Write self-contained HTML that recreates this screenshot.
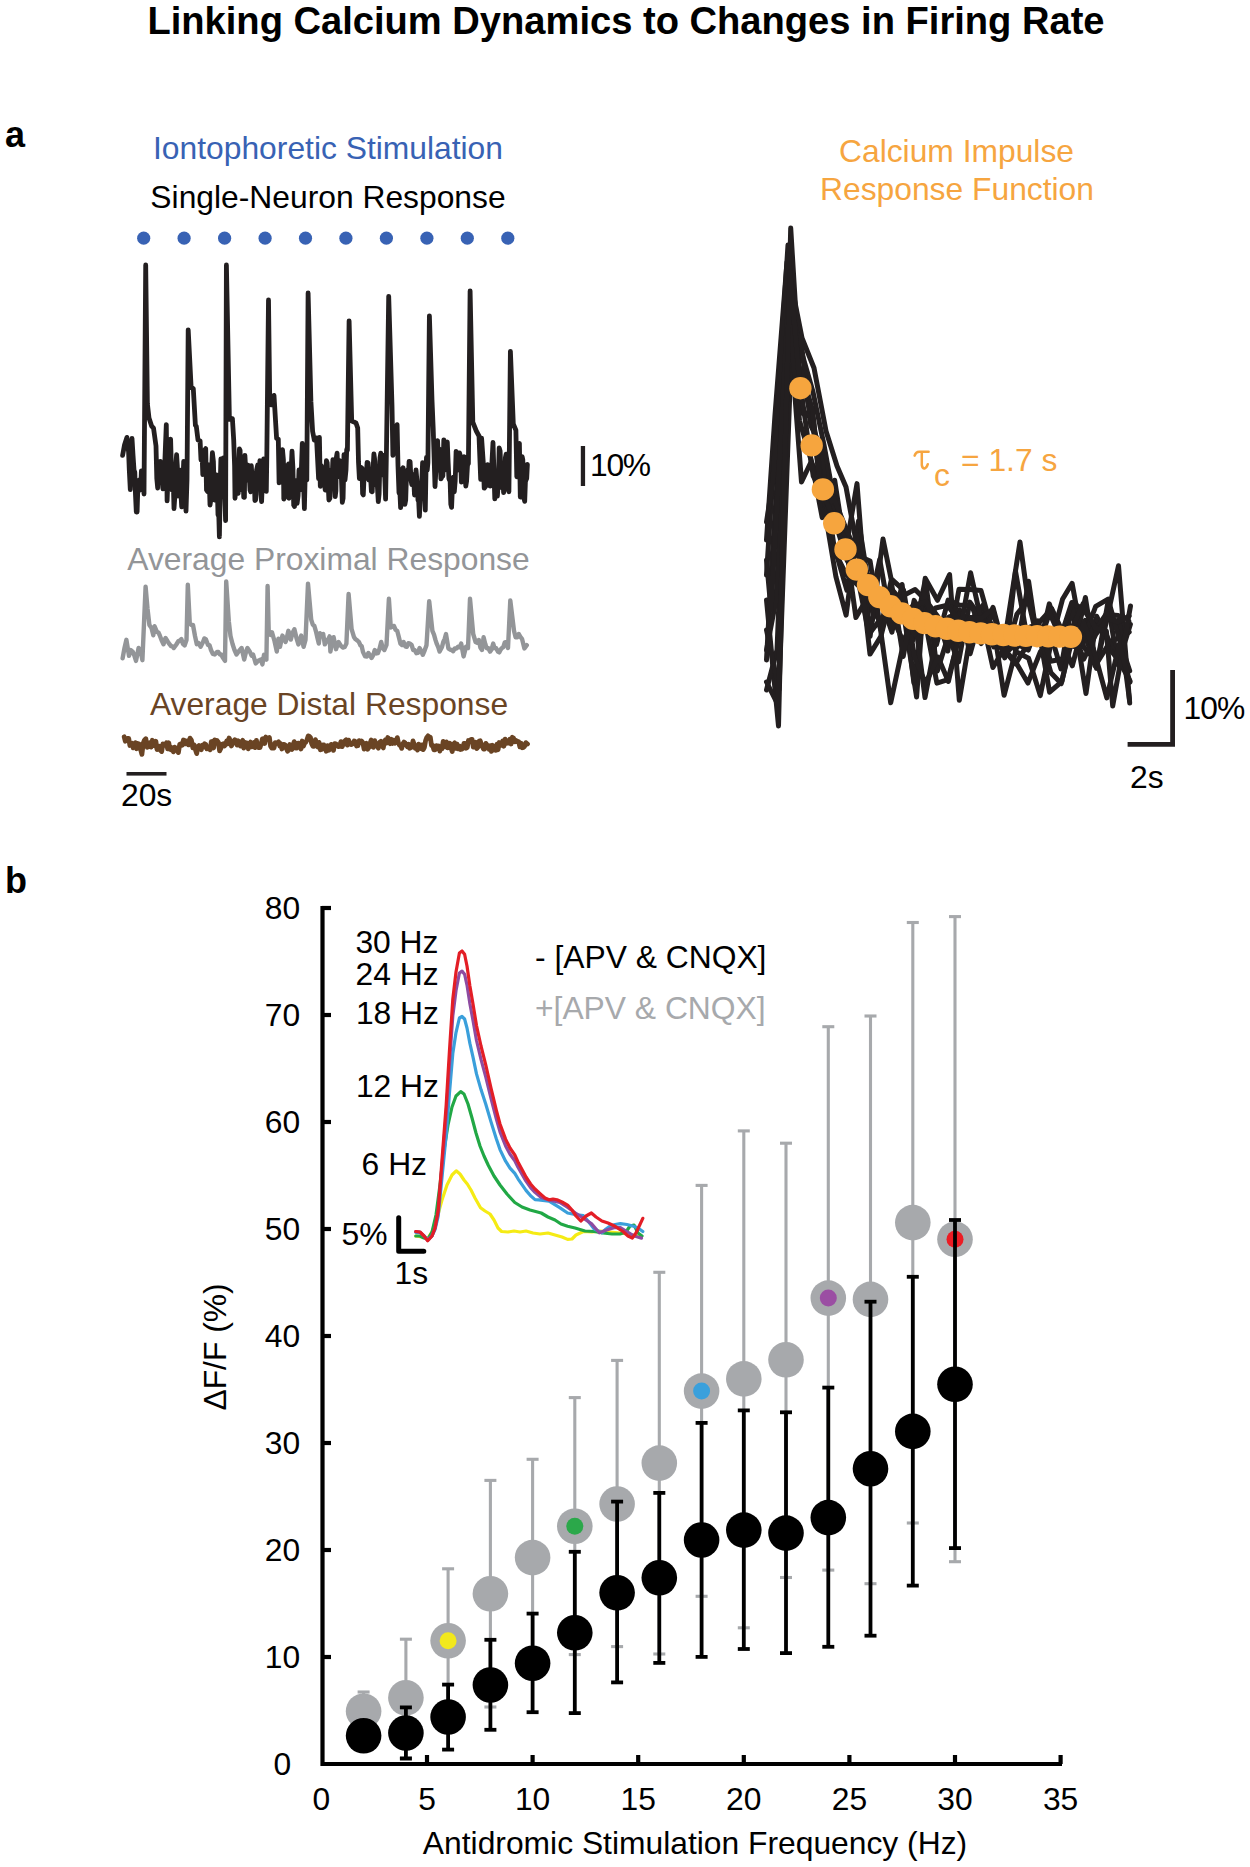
<!DOCTYPE html>
<html><head><meta charset="utf-8"><title>Linking Calcium Dynamics to Changes in Firing Rate</title>
<style>
html,body{margin:0;padding:0;background:#fff;}
svg{display:block;}
text{font-family:"Liberation Sans", sans-serif;}
</style></head>
<body>
<svg width="1250" height="1867" viewBox="0 0 1250 1867">
<rect width="1250" height="1867" fill="#fff"/>
<polyline points="122.6,455.4 124.5,445 126.9,437.4 128.6,452 129.3,470 130.3,489.7 132,438.3 133,455 134,470 134.8,472.3 135.5,495 136.3,512 137.1,512 138,482.5 138.9,480.3 140,490 140.7,488.8 141.4,470.9 142.5,484 143.2,476.9 144,494 145.7,265 147.4,404 149,418 151.7,426.3 153.5,428 156,446 156.8,478.6 157.7,488 158.3,467.7 159,470 159.7,472.6 160.3,461.4 161.5,480 162.2,478.2 162.9,488.9 163.7,488.5 164.5,470 166.3,424.6 167.1,500.9 168.1,473.5 169,470 170.6,439.1 172,490 173,470 174,508.6 174.8,497.3 175.5,470 176.6,454.6 177.3,465.3 178,496 179,475 180,470 181,495 181.7,506.9 182.3,502 183,480 183.7,461.4 184.3,468.3 185.2,490 186,511.1 187,480 188.2,329.8 191.1,386.9 193.3,388.6 195.4,425.4 196.3,426.3 198,440 200.1,440.9 201,460 202,452 202.8,474.6 203.5,470 204.6,450.1 205.7,448.6 206.5,490 207.5,491.5 208.5,465 209.2,478.5 210,505 210.8,500 211.5,470 212.4,452.7 213.4,461.4 214.5,500 215.5,494.7 216.5,475 217.2,483.4 218,515 218.7,512 219.4,536.9 220.2,484.3 220.9,458.9 222,480 222.7,476.7 223.4,458 224.5,490 225.6,520.6 226.4,265 229.4,419.4 232.4,418.6 233.7,440 234.6,465.7 235,498.3 236.3,484.1 237.6,490.6 238.2,493.4 238.8,470 239.4,449 240.1,450.3 240.8,478.5 241.4,489.7 242.2,473.2 243,470 243.7,497.2 244.4,497.4 244.9,455.4 246,475 247,480 248,465.2 249,470 250,490 250.7,491.8 251.3,465.7 252.5,485 253.4,473.4 254.3,476 254.9,500.5 255.6,500 256.6,469.9 257.7,464.9 258.8,485 259.9,460.6 260.8,494.5 261.6,501.7 262.6,474.2 263.7,458.9 264.4,480.9 265,485 265.6,481.8 266.3,491.4 266.8,457.1 268.5,300 269.7,397.1 271.4,404.9 274,395.4 276.6,438.3 278.3,439.1 279.1,482.9 280.4,482 281.7,457.1 282.5,449.6 283.4,459.7 283.8,499.1 284.5,497.8 285.1,469.1 286.1,465.6 287,480 287.8,484.2 288.6,464 289,498.3 289.8,471.2 290.5,470 291.2,468.5 292,451.1 292.9,467.6 293.7,505.1 294.5,506.4 295.4,480.3 296.2,481.6 297.1,503.4 298.1,495.6 299,470 300,490 301,480 302.3,443.4 304.4,508.6 305,483.3 305.7,474.3 306.8,480 308.1,293 310.9,401.4 312.6,431.4 314.3,440 316.5,438 318.6,478.6 319.4,437.4 320.3,486.3 321.3,465.7 322.1,478.8 322.9,467.4 324,480 325.2,490 326.4,460.6 327.2,462.8 328,480 328.9,500 329.9,498.3 330.7,473.7 331.5,470 332.2,475.3 332.9,459.7 333.7,462.8 334.5,480 335.2,496.6 335.9,490.6 336.3,458 337.1,453.2 338,475 338.9,476.4 339.7,460.6 340.6,461.6 341.5,480 342.3,502.4 343.1,498.3 344,454.6 345,480 346,470 346.7,449.5 347.4,450.3 349.1,320.8 351.7,421.1 354,422 356,422.9 357.7,428 358.5,462 359.4,478.5 360.3,478.6 361.1,467.4 362,468.3 362.6,493.6 363.3,494.9 364.1,476.2 365,475 366.1,478.4 367.1,462.3 368.1,463 369,480 370.2,470 371.4,491.4 372.2,491.8 373,470 373.9,453.9 374.9,461.4 375.7,481.7 376.5,485 377.4,486.7 378.3,501.7 379.1,493.7 380,458 380.8,453.2 381.5,475 382.4,471.4 383.4,455.4 384.5,470 385.6,499.1 386.5,447.7 388.7,296.3 392,405.7 392.9,455.4 395.4,431.4 397.1,424.6 398,465.7 399,493 399.8,489.8 400.6,507.7 401.5,499.9 402.3,469.1 403.1,467.8 404,485 404.9,504.4 405.7,500 406.6,471.3 407.5,470 408.3,476.4 409.1,461.4 410.1,461.6 411,480 411.8,484.7 412.6,474.3 413.6,476.6 414.5,495 415.2,489.7 416,470 416.9,480.3 418,500 418.7,501.3 419.4,516.3 420.2,500 421,497.8 421.8,480.3 422.6,462.7 423.6,485 424.5,484.9 425.3,510.2 426,470 426.5,457.4 427.2,470.3 427.9,462.7 429.4,315.8 432,400 433.2,428.4 435,486.5 437.6,440.7 438.8,470 439.5,449.1 440.2,453 440.9,478.9 441.5,478 442.2,464.5 442.9,475.9 443.8,439.8 445,470 445.7,463.9 446.4,445.1 447.3,442 448.2,463.6 448.9,478.5 449.5,480 450.1,479.9 450.8,504.1 451.6,507.3 452.5,485 453.4,477.1 454.3,491.8 455.2,480.8 456.1,451.3 457,454 457.8,470 458.7,468.2 459.6,453 460.5,456.5 461.4,482.1 462.2,478.6 463.1,459.2 464.1,456.8 465,475 465.8,486.2 466.6,481.2 467.5,465.1 468.4,463.6 470.1,290.9 472.8,422.2 476.3,431 479,436 480.7,479.4 481.6,438.1 483.4,464.5 484.2,488.2 485.5,486.5 486.9,468 487.6,464.7 488.3,485 489.5,472.4 490.2,486.1 491,480 493,442.5 494.8,498.8 496,480 496.7,479 497.4,496.2 498.3,481.9 499.2,447.8 500.1,451 501,475 501.6,487.6 502.3,480 503,476.7 503.6,492.6 504.5,488.7 505.4,457.4 506.1,454.2 506.8,475 508,456.6 508.9,491.8 510.4,351.4 513.3,424 515.9,430.2 516.8,476.8 519.4,443.4 520.3,497 521.2,484.6 522.1,456.6 522.8,459.8 523.5,480 524.1,498.2 524.7,501.4 525.4,481.8 526,480 526.7,478.5 527.4,464.5" fill="none" stroke="#231f20" stroke-width="4.8" stroke-linejoin="round" stroke-linecap="round"/>
<circle cx="143.7" cy="238.2" r="6.6" fill="#3862b4"/>
<circle cx="184.1" cy="238.2" r="6.6" fill="#3862b4"/>
<circle cx="224.6" cy="238.2" r="6.6" fill="#3862b4"/>
<circle cx="265.1" cy="238.2" r="6.6" fill="#3862b4"/>
<circle cx="305.5" cy="238.2" r="6.6" fill="#3862b4"/>
<circle cx="345.9" cy="238.2" r="6.6" fill="#3862b4"/>
<circle cx="386.4" cy="238.2" r="6.6" fill="#3862b4"/>
<circle cx="426.9" cy="238.2" r="6.6" fill="#3862b4"/>
<circle cx="467.3" cy="238.2" r="6.6" fill="#3862b4"/>
<circle cx="507.8" cy="238.2" r="6.6" fill="#3862b4"/>
<rect x="580.8" y="446" width="4.3" height="40" fill="#231f20"/>
<polyline points="122.6,658.3 124.5,648 126.4,639.8 129,655.8 130.8,650 132.8,651.9 134.5,656 136,660.9 138.6,648 140.5,650 142.4,660.2 145.6,586.6 147.5,608.4 149.4,625 151.5,628 153.3,635.3 154.6,626.3 157,632 158.3,632.3 159.7,635.3 161.5,640 163.5,644.2 165.5,638 168,642 169.5,644.2 171,646 172.4,646.3 173.8,648 176,645 178.5,641 179.9,640.6 181.4,639.1 183,644 184.6,645.5 186.5,640 187.8,584.7 189.8,623.8 191.4,625 193,625 195,636 196.8,644.2 198.5,643 200.6,646.8 203,642 204.4,638.4 205.8,639.1 208,645 209.5,645.1 211,650 212.8,653.9 214.7,654.5 217,652 218.4,652 219.8,654.5 221.2,654.4 222.5,657 225,660.9 226.2,581.5 228.8,621.2 230.5,636 232.6,644.2 234.5,650 236.5,654.5 239,651 241.6,648 244.2,659.6 246,652 247.4,648 250,652 251.6,655.7 253.1,654.5 255.7,663.4 258,661 259.4,660.2 260.8,659.6 262.4,664.4 264,654.8 266.4,659.6 267.6,586 268.8,634 270.4,634.9 272,632.4 274.5,641 276.8,651.6 278.4,638.8 280,646.8 282.4,635.6 284,638.7 285.6,642 287,637.1 288.4,630.8 290.8,639.6 292.6,632.7 294.4,629.2 296.5,638 298.4,644.4 299.8,640.7 301.2,635.6 303.6,646.8 305.5,640 308,583.6 311.2,619.6 312.8,624.6 314.4,626 316,631.6 317.4,637.7 318.8,643.6 320,633.2 321.6,634.8 323.2,634 324.8,644.4 327,640 328.3,639.1 329.6,636.4 330.4,651.6 332,642.2 333.6,637.2 336,649.2 338.5,642 341,646 343.2,647.6 344.8,646.9 346.4,643.6 348.6,594 351.6,629.2 354,637.2 355.6,639.3 357.2,640.4 358.8,641.8 360.4,645.2 361.7,646.3 363,652 365.2,656.4 366.8,656.5 368.4,653 370,655.4 371.6,658 373.2,655.1 374.8,650 376.4,653.4 378,653 379.6,648.6 381.2,642 382.8,648.1 384.4,650 386.5,645 388.9,598.8 390.8,627.6 392.4,626.3 394,626 395.6,629.9 397.2,630.8 398.8,636.9 400.4,643.6 402,645 403.6,642 405.2,646.3 406.8,646.8 408.4,643.2 410,643.6 411.6,645 413.2,650 414.8,650.2 416.4,653.2 418,652.9 419.6,648 421.2,651.1 422.8,654.8 424.6,650.6 426.5,645.2 429.2,601.2 432.4,630.8 434,634.6 435.6,640.4 436.9,644.2 438.3,647.3 439.6,651.6 442,647 443.3,641.9 444.7,638.8 446,634 448.4,648.4 450,649.6 451.6,650 453.2,651.2 454.8,648.4 456.4,648.5 458,646.8 459.6,647.3 461.2,643.6 463.6,656.4 466,646.8 468,648 470,598.8 473.2,634 475.6,642 477.2,642.8 478.8,640 480.4,647.5 482,650 483.6,637.2 485.2,643.7 486.8,648.4 488.4,648.3 490,651.6 491.6,649.4 493.2,643.6 494.6,648.1 496,648 498,651.6 499.3,652.4 500.7,649.5 502,648 503.3,647.1 504.7,642.6 506,642 508,648 510.3,600.4 514,630.8 515.6,637.2 517.2,637.3 518.8,634 520.4,636.8 522,638.8 524.4,648.4 526.8,645.2" fill="none" stroke="#939598" stroke-width="4.4" stroke-linejoin="round" stroke-linecap="round"/>
<polyline points="124.2,736.8 125.3,741.2 126.5,740.6 127.6,738.4 128.7,738.4 129.9,745.5 131,744.3 132.1,743.4 133.2,747.8 134.3,746.8 135.4,742.6 136.6,748.7 137.7,743.5 139.1,744 140.5,749.1 141.9,754.4 143.2,743.4 144.4,740.1 145.8,738.7 147.2,747.3 148.6,746.8 149.8,742.6 151.1,747.1 152.3,740.3 153.6,741.8 154.7,745.8 155.9,741.2 157,749.5 158.1,749 159.3,746.2 160.4,750.2 161.7,751.5 162.9,743.9 164.2,744.4 165.4,745.2 166.5,742.8 167.6,748.7 168.8,742.8 169.9,749.3 171,749.7 172.1,747.7 173.4,751.9 174.6,747.1 175.9,748 177.2,750.2 178.4,752.6 179.7,744.4 180.9,743.7 182.2,745.2 183.4,740 184.7,740.5 185.9,743.9 187.2,741 188.6,744.9 190,738.2 191.4,740.1 192.8,747.7 194.2,744.8 195.6,750.2 196.7,753.6 197.9,746.9 199,745.6 200.1,748.4 201.3,749.8 202.4,745.2 203.5,747.2 204.6,743.7 205.8,744.5 206.9,748.8 208,748.4 209.1,746.8 210.2,749.8 211.3,741.6 212.4,741.5 213.6,748 214.7,739.8 215.8,742.6 217.1,740.6 218.3,742.2 219.6,750.9 220.8,748.5 222,744.4 223.2,743.7 224.3,746.1 225.5,744.7 226.7,741 227.9,743.8 229.1,738 230.2,740.7 231.4,746 232.6,743.5 233.7,741.1 234.8,739.7 235.9,740.8 237.1,745.1 238.2,740.8 239.3,742.6 240.4,746.1 241.5,742 242.7,740.4 243.8,748.1 244.9,742.3 246,746 247.1,742.9 248.3,748.8 249.4,743.6 250.5,742.1 251.7,746.9 252.8,744.3 254,742.5 255.2,747.6 256.4,740.3 257.6,746.3 258.8,747.7 260,747.7 261.2,743.5 262.4,738.8 263.6,738.6 264.7,743.5 265.9,737 267.1,739.3 268.3,738.7 269.4,737.5 270.6,746.3 271.7,748 272.9,745.2 274,748 275.2,742.6 276.3,743.3 277.4,742.9 278.6,741.8 279.7,746 280.8,743.6 281.9,749 283,744.8 284.2,744.3 285.3,745.2 286.4,748.5 287.5,751.2 288.6,750.2 289.8,744.5 290.9,748.3 292,749.4 293.1,745.2 294.2,741.6 295.3,747.8 296.5,748.1 297.6,743.4 298.7,743.1 299.8,746.8 301,749 302.2,741 303.4,746.1 304.6,743.1 305.8,742.3 307,739.8 308.2,735.9 309.3,736.2 310.5,737.6 311.6,743.5 312.9,746.3 314.1,746.3 315.4,739.6 316.6,742.6 317.9,747 319.1,742.4 320.4,749.8 321.7,749.4 322.8,744.9 323.9,745 325,746.8 326.2,751.3 327.5,745.6 328.8,750.3 330,748.5 331.2,744.4 332.3,745.3 333.5,750.4 334.7,743.6 335.8,743.8 337,745 338.3,746.6 339.6,746.4 340.9,741.6 342.2,746.6 343.5,743.5 344.8,740.9 346.1,739.7 347.3,745.1 348.6,740.1 350.1,744.2 351.5,744.6 353,743.5 354.2,740.9 355.4,741.6 356.6,746 357.9,745.7 359.1,740.7 360.3,742.6 361.6,741 362.9,742.7 364.1,749.1 365.4,746.8 366.5,743.2 367.7,749.2 368.9,747.4 370,743.5 371.2,740 372.3,746.4 373.5,747.2 374.7,740.6 375.8,745.8 377,743.5 378.3,748.2 379.6,742.4 380.9,741.3 382.2,746 383.3,747.9 384.4,741.2 385.5,739.8 386.7,743.1 387.8,737.5 388.9,739.3 390.1,743.7 391.3,739.3 392.5,743.5 393.7,740.3 394.9,743.2 396.1,741.3 397.3,737.6 398.4,743 399.5,745.3 400.6,745.2 401.7,748.4 402.9,743.7 404,742 405.1,742.9 406.3,744.9 407.4,746.8 408.5,744.3 409.6,748.3 410.8,747.7 411.9,746.9 413,740.9 414.1,744.3 415.2,748.4 416.3,747.3 417.5,750.1 418.6,744.1 419.7,744.9 420.8,748.5 422,744.9 423.2,749.6 424.4,747.3 425.6,740.6 426.8,737.4 428,735.9 429.2,738.4 430.3,737.2 431.5,745.5 432.6,745.2 433.9,749.8 435.1,749.8 436.4,745.6 437.6,748.5 438.7,746 439.8,751.1 441,748.2 442.1,748.6 443.2,741.3 444.3,744.3 445.4,746.7 446.5,741.9 447.6,747.9 448.8,744.8 449.9,743.4 451,747.7 452.2,751.5 453.4,744.1 454.6,742.9 455.8,748.4 457,744.1 458.2,748.9 459.4,746 460.5,749.5 461.7,749.2 462.8,748.5 463.9,743.5 465,743.4 466.1,748.2 467.3,747.5 468.4,740.5 469.5,741 470.8,739.7 472.1,739.4 473.3,747.2 474.6,745.2 475.7,742.2 476.8,748.6 478,747 479.1,741.1 480.2,740.8 481.3,744.3 482.4,746.6 483.5,749 484.6,749.1 485.8,743.4 486.9,744.7 488,746.8 489.1,749.3 490.2,745.6 491.4,751.4 492.5,745.3 493.6,750 494.7,747.7 495.8,750.3 497,744.3 498.1,749.7 499.2,742.5 500.4,743.8 501.5,745.2 502.7,740.9 503.9,746.2 505.1,739.1 506.2,743.4 507.4,743.2 508.6,743.1 509.8,739.3 511.1,744 512.4,737.3 513.6,738.2 514.9,741.8 516.1,740.5 517.4,741.8 518.6,741.7 519.9,746.8 521.1,743.3 522.3,747.8 523.4,747.4 524.6,746.4 525.8,742.6 527.5,744" fill="none" stroke="#6a4424" stroke-width="4.8" stroke-linejoin="round" stroke-linecap="round"/>
<rect x="126.5" y="772" width="40" height="3.6" fill="#231f20"/>
<polyline points="766.5,600 778.5,726 790.7,228 799.6,373.9 811.9,415.9 822.4,503.3 834.7,480.3 846,553.8 857,574.2 869,634.2 879.3,620.6 890.7,702.8 903.5,643 915.3,616 925,620.1 936.9,683.1 947.9,679.7 958.6,639.2 972.3,620.5 982.2,609.6 993.7,627.6 1004.1,695.3 1015.6,651.4 1028.6,658.3 1040.3,695.6 1051.3,641.7 1062.5,599.3 1072.1,583.3 1083.7,647.2 1097.2,662.4 1106.9,619.1 1118.5,565.8 1129.7,703.1" fill="none" stroke="#231f20" stroke-width="5" stroke-linejoin="round" stroke-linecap="round"/>
<polyline points="766.5,540 775,415 787,262 802,338 814,368 826,431 837,466 846,487 857.7,550.5 867.8,599.5 881.4,624.3 891,588.3 901.6,600.9 916.6,697 925.2,578.3 937.5,600.3 949.6,574.6 959.3,700.3 971.3,629.3 983.5,606.7 992.9,638 1006.2,643 1017.3,647.3 1028.6,581.3 1037.8,644.2 1049.8,630.7 1060.9,668.9 1071.9,605 1086,693.5 1096.7,616.3 1108.7,642.1 1118.7,638.1 1129.2,632" fill="none" stroke="#231f20" stroke-width="5" stroke-linejoin="round" stroke-linecap="round"/>
<polyline points="766.5,660 772,560 789,300 801.5,352 813,392 824,445 834.1,500.4 846.1,546.1 855.9,617.6 869.3,594.6 880.4,598.3 891.9,632.2 902.1,584.5 913.9,682.9 924.4,608.7 935.7,633.9 948.1,634.8 958.5,662 969.9,602.1 982.5,619.9 992.9,667.5 1004.1,648.8 1017,664.3 1027.9,683.1 1040.3,651.8 1051.3,639.4 1061.8,635 1071.9,640.4 1085.2,620.4 1095.2,630.4 1105.9,614.5 1118.3,615.6 1129.4,699.2" fill="none" stroke="#231f20" stroke-width="5" stroke-linejoin="round" stroke-linecap="round"/>
<polyline points="766.5,690 777,650 790,330 800.6,336.6 810.7,425.5 823.6,451.9 836.1,528.8 845.5,541.9 857.6,540.2 867.4,617.3 879.7,559.5 890.9,622.4 901.5,614.6 912.9,640.3 925.4,579.6 937.3,671 948.1,636.4 959.7,609.8 970.2,653.7 981,614.9 994.3,645.5 1006,631.7 1020,542 1027.4,595.8 1040.5,641.8 1049.3,603.9 1062.5,643.1 1074.4,646.6 1085.4,597.5 1096.4,668.4 1107.8,603 1117.9,664.7 1130.4,624.3" fill="none" stroke="#231f20" stroke-width="5" stroke-linejoin="round" stroke-linecap="round"/>
<polyline points="766.5,575 770,520 786.5,285 801.5,482 811,462 822.7,481.8 833.6,549.5 846.2,574.4 858.7,586 869.5,575.6 881.5,604.3 892.1,616.5 903.2,641.6 914.7,616.6 925,697.6 936.2,638.1 948.8,617 958.7,613.3 970.6,620.5 983.7,604.4 994.1,643 1004.4,650.5 1015.7,663.8 1026.8,645.6 1040.1,636.3 1051.8,636.9 1061.9,633 1071.8,602.5 1083.8,609.7 1094.5,626.1 1106.7,635.4 1118.5,661.8 1128.9,621.4" fill="none" stroke="#231f20" stroke-width="5" stroke-linejoin="round" stroke-linecap="round"/>
<polyline points="766.5,630 779,690 791,360 801.5,410.3 810.6,415.8 822.4,463.2 833.8,544.9 846.9,590.2 858.5,521 867.3,576.1 881.3,595.1 892.2,610.5 901.5,596.4 915.1,589.6 925.5,600 937.8,616.5 947.8,651 959,589.3 969.7,589.4 981,590.6 992.8,633 1004.4,644.7 1016.4,640.5 1028.3,627.9 1038,623.8 1051.8,608.7 1062.4,631.3 1073.9,626.8 1085.6,637 1095.1,666 1107.4,646.1 1119,660.7 1130,681" fill="none" stroke="#231f20" stroke-width="5" stroke-linejoin="round" stroke-linecap="round"/>
<polyline points="766.5,522 773,480 788,245 799.6,412.1 813.2,417.8 823.8,504.7 835.9,576.6 846.1,615.2 857.1,531.6 870.1,636.3 883,539 891,578.6 903.6,590.2 914.6,657.4 925.6,683.4 938,657 948.4,681.4 960.4,629.2 970.6,572.8 981.1,619.9 993.8,646.9 1006,626.8 1015,649.6 1027.5,631.9 1039.6,634.9 1049.6,692.2 1061.9,681.5 1074.4,623.5 1083.8,637.6 1095.7,606.4 1108.1,599.2 1119.1,638.5 1129.7,670.9" fill="none" stroke="#231f20" stroke-width="5" stroke-linejoin="round" stroke-linecap="round"/>
<polyline points="766.5,650 776,600 789.5,345 801.5,372 812.5,410 821.9,504.2 835.6,497.6 846.7,544.4 857,483.6 868.4,629.6 880.3,601 891.7,628.3 902,615.2 914.9,634.5 924.2,593.7 936.5,644.6 948.1,600.1 959.3,605.1 971.6,605.4 983.4,635.9 993,607.4 1005.9,655.4 1015.5,571.3 1028.8,647.3 1038.6,630.6 1050.9,672.8 1061.2,683.6 1073.8,632.8 1083.7,659.1 1095.9,634.1 1107.9,618.6 1118.2,622.1 1129.1,616" fill="none" stroke="#231f20" stroke-width="5" stroke-linejoin="round" stroke-linecap="round"/>
<polyline points="766.5,560 771,610 788,310 799.5,420.6 811.7,462.3 822.2,517.6 833.2,496.9 846.7,530.1 857.4,555.5 870.1,561.1 880.5,629.3 891.1,580.9 903.2,656.5 914.1,600.4 926.4,623.9 935.5,608 947.4,605.3 959.9,622 971,628.1 981.3,643.5 993.2,611 1004.2,655.4 1015.4,643.2 1028.2,650.1 1038,620.9 1050.6,661.3 1062.6,659 1072.3,627.2 1083.3,603.4 1095.2,628 1106.4,631.2 1112.7,706 1130.5,606" fill="none" stroke="#231f20" stroke-width="5" stroke-linejoin="round" stroke-linecap="round"/>
<polyline points="766.5,682 778,705 790,272 799.1,376.9 813.2,476 822.9,493.7 834.7,520.5 847.2,560.7 856.4,534.5 870,654.1 880.9,636.4 892.1,592.3 902.3,612.3 914.7,605.3 926.4,601.4 935.6,625.3 947.7,643.6 960.5,633.5 970.4,617.4 981.2,618.5 992.9,608.9 1004.7,657.9 1017,614 1028.2,600.3 1038.7,644.5 1049.6,613 1061.4,639.5 1072.3,665.8 1083.7,622.5 1094.5,652.4 1106.8,697.9 1119.2,644.4 1129.9,682.3" fill="none" stroke="#231f20" stroke-width="5" stroke-linejoin="round" stroke-linecap="round"/>
<circle cx="800.4" cy="388.2" r="11.2" fill="#f6a53e"/>
<circle cx="811.7" cy="445.4" r="11.2" fill="#f6a53e"/>
<circle cx="822.9" cy="489.4" r="11.2" fill="#f6a53e"/>
<circle cx="834.2" cy="523.3" r="11.2" fill="#f6a53e"/>
<circle cx="845.5" cy="549.4" r="11.2" fill="#f6a53e"/>
<circle cx="856.8" cy="569.6" r="11.2" fill="#f6a53e"/>
<circle cx="868" cy="585.1" r="11.2" fill="#f6a53e"/>
<circle cx="879.3" cy="597.1" r="11.2" fill="#f6a53e"/>
<circle cx="890.6" cy="606.3" r="11.2" fill="#f6a53e"/>
<circle cx="901.8" cy="613.4" r="11.2" fill="#f6a53e"/>
<circle cx="913.1" cy="618.9" r="11.2" fill="#f6a53e"/>
<circle cx="924.4" cy="623.1" r="11.2" fill="#f6a53e"/>
<circle cx="935.6" cy="626.3" r="11.2" fill="#f6a53e"/>
<circle cx="946.9" cy="628.8" r="11.2" fill="#f6a53e"/>
<circle cx="958.2" cy="630.8" r="11.2" fill="#f6a53e"/>
<circle cx="969.4" cy="632.3" r="11.2" fill="#f6a53e"/>
<circle cx="980.7" cy="633.4" r="11.2" fill="#f6a53e"/>
<circle cx="992" cy="634.3" r="11.2" fill="#f6a53e"/>
<circle cx="1003.3" cy="635" r="11.2" fill="#f6a53e"/>
<circle cx="1014.5" cy="635.5" r="11.2" fill="#f6a53e"/>
<circle cx="1025.8" cy="635.9" r="11.2" fill="#f6a53e"/>
<circle cx="1037.1" cy="636.2" r="11.2" fill="#f6a53e"/>
<circle cx="1048.3" cy="636.4" r="11.2" fill="#f6a53e"/>
<circle cx="1059.6" cy="636.6" r="11.2" fill="#f6a53e"/>
<circle cx="1070.9" cy="636.8" r="11.2" fill="#f6a53e"/>
<path d="M1127.6,744.4 H1172.6 V670" fill="none" stroke="#231f20" stroke-width="4.8"/>
<line x1="363.6" y1="1692" x2="363.6" y2="1730" stroke="#a7a9ac" stroke-width="3.1"/>
<line x1="357.6" y1="1692" x2="369.6" y2="1692" stroke="#a7a9ac" stroke-width="3.1"/>
<line x1="357.6" y1="1730" x2="369.6" y2="1730" stroke="#a7a9ac" stroke-width="3.1"/>
<line x1="405.9" y1="1639.2" x2="405.9" y2="1757.6" stroke="#a7a9ac" stroke-width="3.1"/>
<line x1="399.9" y1="1639.2" x2="411.9" y2="1639.2" stroke="#a7a9ac" stroke-width="3.1"/>
<line x1="399.9" y1="1757.6" x2="411.9" y2="1757.6" stroke="#a7a9ac" stroke-width="3.1"/>
<line x1="448.1" y1="1568.8" x2="448.1" y2="1713" stroke="#a7a9ac" stroke-width="3.1"/>
<line x1="442.1" y1="1568.8" x2="454.1" y2="1568.8" stroke="#a7a9ac" stroke-width="3.1"/>
<line x1="442.1" y1="1713" x2="454.1" y2="1713" stroke="#a7a9ac" stroke-width="3.1"/>
<line x1="490.4" y1="1480.4" x2="490.4" y2="1707" stroke="#a7a9ac" stroke-width="3.1"/>
<line x1="484.4" y1="1480.4" x2="496.4" y2="1480.4" stroke="#a7a9ac" stroke-width="3.1"/>
<line x1="484.4" y1="1707" x2="496.4" y2="1707" stroke="#a7a9ac" stroke-width="3.1"/>
<line x1="532.6" y1="1459.3" x2="532.6" y2="1668" stroke="#a7a9ac" stroke-width="3.1"/>
<line x1="526.6" y1="1459.3" x2="538.6" y2="1459.3" stroke="#a7a9ac" stroke-width="3.1"/>
<line x1="526.6" y1="1668" x2="538.6" y2="1668" stroke="#a7a9ac" stroke-width="3.1"/>
<line x1="574.8" y1="1397.6" x2="574.8" y2="1654.6" stroke="#a7a9ac" stroke-width="3.1"/>
<line x1="568.8" y1="1397.6" x2="580.8" y2="1397.6" stroke="#a7a9ac" stroke-width="3.1"/>
<line x1="568.8" y1="1654.6" x2="580.8" y2="1654.6" stroke="#a7a9ac" stroke-width="3.1"/>
<line x1="617.1" y1="1360.4" x2="617.1" y2="1646.6" stroke="#a7a9ac" stroke-width="3.1"/>
<line x1="611.1" y1="1360.4" x2="623.1" y2="1360.4" stroke="#a7a9ac" stroke-width="3.1"/>
<line x1="611.1" y1="1646.6" x2="623.1" y2="1646.6" stroke="#a7a9ac" stroke-width="3.1"/>
<line x1="659.3" y1="1272.3" x2="659.3" y2="1654" stroke="#a7a9ac" stroke-width="3.1"/>
<line x1="653.3" y1="1272.3" x2="665.3" y2="1272.3" stroke="#a7a9ac" stroke-width="3.1"/>
<line x1="653.3" y1="1654" x2="665.3" y2="1654" stroke="#a7a9ac" stroke-width="3.1"/>
<line x1="701.6" y1="1185.4" x2="701.6" y2="1596.3" stroke="#a7a9ac" stroke-width="3.1"/>
<line x1="695.6" y1="1185.4" x2="707.6" y2="1185.4" stroke="#a7a9ac" stroke-width="3.1"/>
<line x1="695.6" y1="1596.3" x2="707.6" y2="1596.3" stroke="#a7a9ac" stroke-width="3.1"/>
<line x1="743.8" y1="1130.9" x2="743.8" y2="1627.8" stroke="#a7a9ac" stroke-width="3.1"/>
<line x1="737.8" y1="1130.9" x2="749.8" y2="1130.9" stroke="#a7a9ac" stroke-width="3.1"/>
<line x1="737.8" y1="1627.8" x2="749.8" y2="1627.8" stroke="#a7a9ac" stroke-width="3.1"/>
<line x1="786" y1="1143.2" x2="786" y2="1577.5" stroke="#a7a9ac" stroke-width="3.1"/>
<line x1="780" y1="1143.2" x2="792" y2="1143.2" stroke="#a7a9ac" stroke-width="3.1"/>
<line x1="780" y1="1577.5" x2="792" y2="1577.5" stroke="#a7a9ac" stroke-width="3.1"/>
<line x1="828.3" y1="1026.7" x2="828.3" y2="1570.1" stroke="#a7a9ac" stroke-width="3.1"/>
<line x1="822.3" y1="1026.7" x2="834.3" y2="1026.7" stroke="#a7a9ac" stroke-width="3.1"/>
<line x1="822.3" y1="1570.1" x2="834.3" y2="1570.1" stroke="#a7a9ac" stroke-width="3.1"/>
<line x1="870.5" y1="1016" x2="870.5" y2="1583.7" stroke="#a7a9ac" stroke-width="3.1"/>
<line x1="864.5" y1="1016" x2="876.5" y2="1016" stroke="#a7a9ac" stroke-width="3.1"/>
<line x1="864.5" y1="1583.7" x2="876.5" y2="1583.7" stroke="#a7a9ac" stroke-width="3.1"/>
<line x1="912.8" y1="922.5" x2="912.8" y2="1523" stroke="#a7a9ac" stroke-width="3.1"/>
<line x1="906.8" y1="922.5" x2="918.8" y2="922.5" stroke="#a7a9ac" stroke-width="3.1"/>
<line x1="906.8" y1="1523" x2="918.8" y2="1523" stroke="#a7a9ac" stroke-width="3.1"/>
<line x1="955" y1="916.6" x2="955" y2="1561.7" stroke="#a7a9ac" stroke-width="3.1"/>
<line x1="949" y1="916.6" x2="961" y2="916.6" stroke="#a7a9ac" stroke-width="3.1"/>
<line x1="949" y1="1561.7" x2="961" y2="1561.7" stroke="#a7a9ac" stroke-width="3.1"/>
<circle cx="363.6" cy="1711.2" r="17.8" fill="#a7a9ac"/>
<circle cx="405.9" cy="1697.8" r="17.8" fill="#a7a9ac"/>
<circle cx="448.1" cy="1640.8" r="17.8" fill="#a7a9ac"/>
<circle cx="448.1" cy="1640.8" r="8.5" fill="#f2e81c"/>
<circle cx="490.4" cy="1593.8" r="17.8" fill="#a7a9ac"/>
<circle cx="532.6" cy="1557.6" r="17.8" fill="#a7a9ac"/>
<circle cx="574.8" cy="1526.2" r="17.8" fill="#a7a9ac"/>
<circle cx="574.8" cy="1526.2" r="8.5" fill="#2ba84a"/>
<circle cx="617.1" cy="1504" r="17.8" fill="#a7a9ac"/>
<circle cx="659.3" cy="1463.1" r="17.8" fill="#a7a9ac"/>
<circle cx="701.6" cy="1391.1" r="17.8" fill="#a7a9ac"/>
<circle cx="701.6" cy="1391.1" r="8.5" fill="#3aa0dc"/>
<circle cx="743.8" cy="1378.9" r="17.8" fill="#a7a9ac"/>
<circle cx="786" cy="1359.8" r="17.8" fill="#a7a9ac"/>
<circle cx="828.3" cy="1298.1" r="17.8" fill="#a7a9ac"/>
<circle cx="828.3" cy="1298.1" r="8.5" fill="#9b4ea3"/>
<circle cx="870.5" cy="1299.4" r="17.8" fill="#a7a9ac"/>
<circle cx="912.8" cy="1222.6" r="17.8" fill="#a7a9ac"/>
<circle cx="955" cy="1239.2" r="17.8" fill="#a7a9ac"/>
<circle cx="955" cy="1239.2" r="8.5" fill="#ec1c24"/>
<line x1="363.6" y1="1735.8" x2="363.6" y2="1735.8" stroke="#000" stroke-width="3.8"/>
<line x1="357.6" y1="1735.8" x2="369.6" y2="1735.8" stroke="#000" stroke-width="3.8"/>
<line x1="357.6" y1="1735.8" x2="369.6" y2="1735.8" stroke="#000" stroke-width="3.8"/>
<line x1="405.9" y1="1707.4" x2="405.9" y2="1758.6" stroke="#000" stroke-width="3.8"/>
<line x1="399.9" y1="1707.4" x2="411.9" y2="1707.4" stroke="#000" stroke-width="3.8"/>
<line x1="399.9" y1="1758.6" x2="411.9" y2="1758.6" stroke="#000" stroke-width="3.8"/>
<line x1="448.1" y1="1684.6" x2="448.1" y2="1749.6" stroke="#000" stroke-width="3.8"/>
<line x1="442.1" y1="1684.6" x2="454.1" y2="1684.6" stroke="#000" stroke-width="3.8"/>
<line x1="442.1" y1="1749.6" x2="454.1" y2="1749.6" stroke="#000" stroke-width="3.8"/>
<line x1="490.4" y1="1639.8" x2="490.4" y2="1729.8" stroke="#000" stroke-width="3.8"/>
<line x1="484.4" y1="1639.8" x2="496.4" y2="1639.8" stroke="#000" stroke-width="3.8"/>
<line x1="484.4" y1="1729.8" x2="496.4" y2="1729.8" stroke="#000" stroke-width="3.8"/>
<line x1="532.6" y1="1613.6" x2="532.6" y2="1712.2" stroke="#000" stroke-width="3.8"/>
<line x1="526.6" y1="1613.6" x2="538.6" y2="1613.6" stroke="#000" stroke-width="3.8"/>
<line x1="526.6" y1="1712.2" x2="538.6" y2="1712.2" stroke="#000" stroke-width="3.8"/>
<line x1="574.8" y1="1551.8" x2="574.8" y2="1713.1" stroke="#000" stroke-width="3.8"/>
<line x1="568.8" y1="1551.8" x2="580.8" y2="1551.8" stroke="#000" stroke-width="3.8"/>
<line x1="568.8" y1="1713.1" x2="580.8" y2="1713.1" stroke="#000" stroke-width="3.8"/>
<line x1="617.1" y1="1501.6" x2="617.1" y2="1682.4" stroke="#000" stroke-width="3.8"/>
<line x1="611.1" y1="1501.6" x2="623.1" y2="1501.6" stroke="#000" stroke-width="3.8"/>
<line x1="611.1" y1="1682.4" x2="623.1" y2="1682.4" stroke="#000" stroke-width="3.8"/>
<line x1="659.3" y1="1492.9" x2="659.3" y2="1662.9" stroke="#000" stroke-width="3.8"/>
<line x1="653.3" y1="1492.9" x2="665.3" y2="1492.9" stroke="#000" stroke-width="3.8"/>
<line x1="653.3" y1="1662.9" x2="665.3" y2="1662.9" stroke="#000" stroke-width="3.8"/>
<line x1="701.6" y1="1422.9" x2="701.6" y2="1656.9" stroke="#000" stroke-width="3.8"/>
<line x1="695.6" y1="1422.9" x2="707.6" y2="1422.9" stroke="#000" stroke-width="3.8"/>
<line x1="695.6" y1="1656.9" x2="707.6" y2="1656.9" stroke="#000" stroke-width="3.8"/>
<line x1="743.8" y1="1410.4" x2="743.8" y2="1649" stroke="#000" stroke-width="3.8"/>
<line x1="737.8" y1="1410.4" x2="749.8" y2="1410.4" stroke="#000" stroke-width="3.8"/>
<line x1="737.8" y1="1649" x2="749.8" y2="1649" stroke="#000" stroke-width="3.8"/>
<line x1="786" y1="1412.3" x2="786" y2="1653.1" stroke="#000" stroke-width="3.8"/>
<line x1="780" y1="1412.3" x2="792" y2="1412.3" stroke="#000" stroke-width="3.8"/>
<line x1="780" y1="1653.1" x2="792" y2="1653.1" stroke="#000" stroke-width="3.8"/>
<line x1="828.3" y1="1387.6" x2="828.3" y2="1646.8" stroke="#000" stroke-width="3.8"/>
<line x1="822.3" y1="1387.6" x2="834.3" y2="1387.6" stroke="#000" stroke-width="3.8"/>
<line x1="822.3" y1="1646.8" x2="834.3" y2="1646.8" stroke="#000" stroke-width="3.8"/>
<line x1="870.5" y1="1301.7" x2="870.5" y2="1635.7" stroke="#000" stroke-width="3.8"/>
<line x1="864.5" y1="1301.7" x2="876.5" y2="1301.7" stroke="#000" stroke-width="3.8"/>
<line x1="864.5" y1="1635.7" x2="876.5" y2="1635.7" stroke="#000" stroke-width="3.8"/>
<line x1="912.8" y1="1276.8" x2="912.8" y2="1585.6" stroke="#000" stroke-width="3.8"/>
<line x1="906.8" y1="1276.8" x2="918.8" y2="1276.8" stroke="#000" stroke-width="3.8"/>
<line x1="906.8" y1="1585.6" x2="918.8" y2="1585.6" stroke="#000" stroke-width="3.8"/>
<line x1="955" y1="1220" x2="955" y2="1548.1" stroke="#000" stroke-width="3.8"/>
<line x1="949" y1="1220" x2="961" y2="1220" stroke="#000" stroke-width="3.8"/>
<line x1="949" y1="1548.1" x2="961" y2="1548.1" stroke="#000" stroke-width="3.8"/>
<circle cx="363.6" cy="1735.8" r="17.8" fill="#000"/>
<circle cx="405.9" cy="1733" r="17.8" fill="#000"/>
<circle cx="448.1" cy="1717" r="17.8" fill="#000"/>
<circle cx="490.4" cy="1685" r="17.8" fill="#000"/>
<circle cx="532.6" cy="1663.2" r="17.8" fill="#000"/>
<circle cx="574.8" cy="1632.8" r="17.8" fill="#000"/>
<circle cx="617.1" cy="1592.8" r="17.8" fill="#000"/>
<circle cx="659.3" cy="1577.8" r="17.8" fill="#000"/>
<circle cx="701.6" cy="1540" r="17.8" fill="#000"/>
<circle cx="743.8" cy="1530.1" r="17.8" fill="#000"/>
<circle cx="786" cy="1533.1" r="17.8" fill="#000"/>
<circle cx="828.3" cy="1517.6" r="17.8" fill="#000"/>
<circle cx="870.5" cy="1468.7" r="17.8" fill="#000"/>
<circle cx="912.8" cy="1431.4" r="17.8" fill="#000"/>
<circle cx="955" cy="1384.3" r="17.8" fill="#000"/>
<path d="M322.5,906 V1764 H1062" fill="none" stroke="#000" stroke-width="4.2"/>
<line x1="322" y1="1657" x2="331" y2="1657" stroke="#000" stroke-width="4.2"/>
<line x1="322" y1="1550" x2="331" y2="1550" stroke="#000" stroke-width="4.2"/>
<line x1="322" y1="1443" x2="331" y2="1443" stroke="#000" stroke-width="4.2"/>
<line x1="322" y1="1336" x2="331" y2="1336" stroke="#000" stroke-width="4.2"/>
<line x1="322" y1="1229" x2="331" y2="1229" stroke="#000" stroke-width="4.2"/>
<line x1="322" y1="1122" x2="331" y2="1122" stroke="#000" stroke-width="4.2"/>
<line x1="322" y1="1015" x2="331" y2="1015" stroke="#000" stroke-width="4.2"/>
<line x1="322" y1="908" x2="331" y2="908" stroke="#000" stroke-width="4.2"/>
<line x1="427" y1="1764" x2="427" y2="1755" stroke="#000" stroke-width="4.2"/>
<line x1="532.6" y1="1764" x2="532.6" y2="1755" stroke="#000" stroke-width="4.2"/>
<line x1="638.2" y1="1764" x2="638.2" y2="1755" stroke="#000" stroke-width="4.2"/>
<line x1="743.8" y1="1764" x2="743.8" y2="1755" stroke="#000" stroke-width="4.2"/>
<line x1="849.4" y1="1764" x2="849.4" y2="1755" stroke="#000" stroke-width="4.2"/>
<line x1="955" y1="1764" x2="955" y2="1755" stroke="#000" stroke-width="4.2"/>
<line x1="1060.6" y1="1764" x2="1060.6" y2="1755" stroke="#000" stroke-width="4.2"/>
<polyline points="415.8,1236 422,1237 428,1238 432,1232 437,1218 442,1200 447,1185 452,1175 456.2,1170.8 460,1174 464,1180 467.3,1184 471,1190 475,1198 480.5,1207.7 485,1211 490,1214 494,1220 498,1228 501.6,1231.5 508,1232 514,1231 520,1232 526,1231 533,1233 540,1234 548,1233 555,1235 562,1237 567.6,1239.4 572,1239 576,1235 583.4,1231.5 592,1232 600,1231 610,1232 620,1233 628,1234 634,1236 640,1236" fill="none" stroke="#f5eb14" stroke-width="3.2" stroke-linejoin="round" stroke-linecap="round"/>
<polyline points="415.8,1236 420,1236 424,1238 428,1239 432,1232 436,1215 440,1185 444,1150 448,1125 452,1107 456,1096 460.7,1091.6 464,1094 468,1104 472,1118 476,1133 480,1146 484,1156 488.4,1165.5 494,1176 500,1185 507,1194 514.8,1202.5 522,1207 530,1210 541.2,1213 548,1217 555,1220 561,1224 567.6,1226.2 575,1228 585,1231 594,1231.5 603,1233 612,1234 620,1234 626,1232 630,1226 634,1225 638,1233 642,1236" fill="none" stroke="#21a845" stroke-width="3.2" stroke-linejoin="round" stroke-linecap="round"/>
<polyline points="415.8,1232.3 420,1232.7 424,1235.8 427.7,1239.5 432,1235.8 435,1229.6 438.2,1216.1 442,1177.3 446.2,1134.8 449.5,1092.6 452.8,1053.6 456,1032.6 459.4,1018 462,1016.5 464.6,1019 467,1028 469.9,1043.4 473,1057.2 476.5,1073.9 481,1089.6 485.8,1104.3 491,1121.9 496.3,1138.8 500,1149.6 505.6,1161.2 510,1168.1 514.8,1173.4 518,1178.8 522.7,1185.6 526,1190.4 530.6,1195.8 535,1199.6 538.6,1199.8 549.1,1201.2 559.7,1207.7 567.6,1213 575,1214.5 583.4,1215.7 588,1221 594,1228.9 601.9,1232.8 606,1229 609.8,1226.2 615,1224.5 620.4,1223.6 627,1224.5 633.6,1226.2 638,1228 642.8,1231.5" fill="none" stroke="#3a9fdb" stroke-width="3.2" stroke-linejoin="round" stroke-linecap="round"/>
<polyline points="415.8,1231.7 420,1232.2 424,1235.9 427.7,1240.4 432,1235.9 435,1228.5 438.2,1212.1 442,1165.3 446.2,1114 449.5,1063.1 452.8,1015.9 456,990.7 459.4,973 462,971.1 464.6,974.2 467,985.1 469.9,1003.7 473,1020.4 476.5,1040.5 481,1059.4 485.8,1077.2 491,1098.4 496.3,1118.9 500,1131.9 505.6,1145.9 510,1154.2 514.8,1160.7 518,1167.2 522.7,1175.4 526,1181.1 530.6,1187.6 535,1192.3 541.2,1197.5 549,1200 559.7,1202.5 567,1207 575.5,1213 583,1218 591.4,1223.6 599.3,1232.8 604,1231 609.8,1228.9 615,1227.5 620.4,1227.6 626,1231 631,1234.2 636,1236.5 641.5,1238.1" fill="none" stroke="#8e4ba1" stroke-width="3.2" stroke-linejoin="round" stroke-linecap="round"/>
<polyline points="415.8,1231.5 420,1232 424,1236 427.7,1240.8 432,1236 435,1228 438.2,1210.4 442,1160 446.2,1104.8 449.5,1050 452.8,999.2 456,972 459.4,953 462,951 464.6,954.3 467,966 469.9,986 473,1004 476.5,1025.6 481,1046 485.8,1065.2 491,1088 496.3,1110 500,1124 505.6,1139.1 510,1148 514.8,1155 518,1162 522.7,1170.8 526,1177 530.6,1184 535,1189 541.2,1194.6 545,1198 549.1,1199.8 553,1199 557,1199.8 562,1202 567.6,1205.1 572,1210 576,1216 580.8,1221 586,1216 591.4,1213 596,1217 601.9,1221 608,1223 615.1,1226.2 619,1229 623,1231.5 628,1236 632.3,1238.1 636,1233 642.8,1218.3" fill="none" stroke="#e31e26" stroke-width="3.2" stroke-linejoin="round" stroke-linecap="round"/>
<path d="M398.7,1217.8 V1251.2 H423.8" fill="none" stroke="#000" stroke-width="5" stroke-linecap="round" stroke-linejoin="round"/>
<text x="626" y="34.2" font-size="38.12" fill="#000" font-weight="bold" text-anchor="middle" >Linking Calcium Dynamics to Changes in Firing Rate</text>
<text x="5" y="147.4" font-size="36" fill="#000" font-weight="bold" text-anchor="start" >a</text>
<text x="5" y="893" font-size="36" fill="#000" font-weight="bold" text-anchor="start" >b</text>
<text x="328" y="159.1" font-size="31.8" fill="#3862b4" font-weight="normal" text-anchor="middle" >Iontophoretic Stimulation</text>
<text x="328" y="207.8" font-size="31.8" fill="#000" font-weight="normal" text-anchor="middle" >Single-Neuron Response</text>
<text x="328.5" y="569.6" font-size="31.8" fill="#939598" font-weight="normal" text-anchor="middle" >Average Proximal Response</text>
<text x="329" y="715.1" font-size="31.8" fill="#6a4424" font-weight="normal" text-anchor="middle" >Average Distal Response</text>
<text x="590" y="476.4" font-size="31.8" fill="#000" font-weight="normal" text-anchor="start" style="letter-spacing:-1.3px">10%</text>
<text x="121" y="805.6" font-size="31.8" fill="#000" font-weight="normal" text-anchor="start" >20s</text>
<text x="956.5" y="162.2" font-size="31.8" fill="#f6a540" font-weight="normal" text-anchor="middle" >Calcium Impulse</text>
<text x="957" y="199.9" font-size="31.8" fill="#f6a540" font-weight="normal" text-anchor="middle" >Response Function</text>
<path d="M914.6,455.6 Q915.8,451.8 919.2,451.8 L928.6,451.8 M921.8,452.2 L921.8,465 Q922.3,468.6 924.6,468.4 Q926.6,468 927.8,464.2" fill="none" stroke="#f6a540" stroke-width="2.5" stroke-linecap="round"/>
<text x="934" y="485.6" font-size="31.8" fill="#f6a540" font-weight="normal" text-anchor="start" >c</text>
<text x="961" y="470.8" font-size="31.8" fill="#f6a540" font-weight="normal" text-anchor="start" >= 1.7 s</text>
<text x="1183.5" y="718.6" font-size="31.8" fill="#000" font-weight="normal" text-anchor="start" style="letter-spacing:-0.9px">10%</text>
<text x="1130" y="787.6" font-size="31.8" fill="#000" font-weight="normal" text-anchor="start" >2s</text>
<text x="282.4" y="1775.2" font-size="31.8" fill="#000" font-weight="normal" text-anchor="middle" >0</text>
<text x="282.4" y="1668.2" font-size="31.8" fill="#000" font-weight="normal" text-anchor="middle" >10</text>
<text x="282.4" y="1561.2" font-size="31.8" fill="#000" font-weight="normal" text-anchor="middle" >20</text>
<text x="282.4" y="1454.2" font-size="31.8" fill="#000" font-weight="normal" text-anchor="middle" >30</text>
<text x="282.4" y="1347.2" font-size="31.8" fill="#000" font-weight="normal" text-anchor="middle" >40</text>
<text x="282.4" y="1240.2" font-size="31.8" fill="#000" font-weight="normal" text-anchor="middle" >50</text>
<text x="282.4" y="1133.2" font-size="31.8" fill="#000" font-weight="normal" text-anchor="middle" >60</text>
<text x="282.4" y="1026.2" font-size="31.8" fill="#000" font-weight="normal" text-anchor="middle" >70</text>
<text x="282.4" y="919.2" font-size="31.8" fill="#000" font-weight="normal" text-anchor="middle" >80</text>
<text x="321.4" y="1810.2" font-size="31.8" fill="#000" font-weight="normal" text-anchor="middle" >0</text>
<text x="427" y="1810.2" font-size="31.8" fill="#000" font-weight="normal" text-anchor="middle" >5</text>
<text x="532.6" y="1810.2" font-size="31.8" fill="#000" font-weight="normal" text-anchor="middle" >10</text>
<text x="638.2" y="1810.2" font-size="31.8" fill="#000" font-weight="normal" text-anchor="middle" >15</text>
<text x="743.8" y="1810.2" font-size="31.8" fill="#000" font-weight="normal" text-anchor="middle" >20</text>
<text x="849.4" y="1810.2" font-size="31.8" fill="#000" font-weight="normal" text-anchor="middle" >25</text>
<text x="955" y="1810.2" font-size="31.8" fill="#000" font-weight="normal" text-anchor="middle" >30</text>
<text x="1060.6" y="1810.2" font-size="31.8" fill="#000" font-weight="normal" text-anchor="middle" >35</text>
<text x="695" y="1853.6" font-size="31.8" fill="#000" font-weight="normal" text-anchor="middle" >Antidromic Stimulation Frequency (Hz)</text>
<text x="0" y="0" font-size="31.8" fill="#000" font-weight="normal" text-anchor="middle" transform="translate(226,1347) rotate(-90)">ΔF/F (%)</text>
<text x="438.5" y="953.4" font-size="31.8" fill="#000" font-weight="normal" text-anchor="end" >30 Hz</text>
<text x="438.7" y="984.6" font-size="31.8" fill="#000" font-weight="normal" text-anchor="end" >24 Hz</text>
<text x="439" y="1024" font-size="31.8" fill="#000" font-weight="normal" text-anchor="end" >18 Hz</text>
<text x="439" y="1096.6" font-size="31.8" fill="#000" font-weight="normal" text-anchor="end" >12 Hz</text>
<text x="427" y="1175" font-size="31.8" fill="#000" font-weight="normal" text-anchor="end" >6 Hz</text>
<text x="387.5" y="1245" font-size="31.8" fill="#000" font-weight="normal" text-anchor="end" >5%</text>
<text x="394.5" y="1283.7" font-size="31.8" fill="#000" font-weight="normal" text-anchor="start" >1s</text>
<text x="535" y="968.4" font-size="31.8" fill="#000" font-weight="normal" text-anchor="start" >- [APV &amp; CNQX]</text>
<text x="535" y="1019" font-size="31.8" fill="#a7a9ac" font-weight="normal" text-anchor="start" >+[APV &amp; CNQX]</text>
</svg>
</body></html>
